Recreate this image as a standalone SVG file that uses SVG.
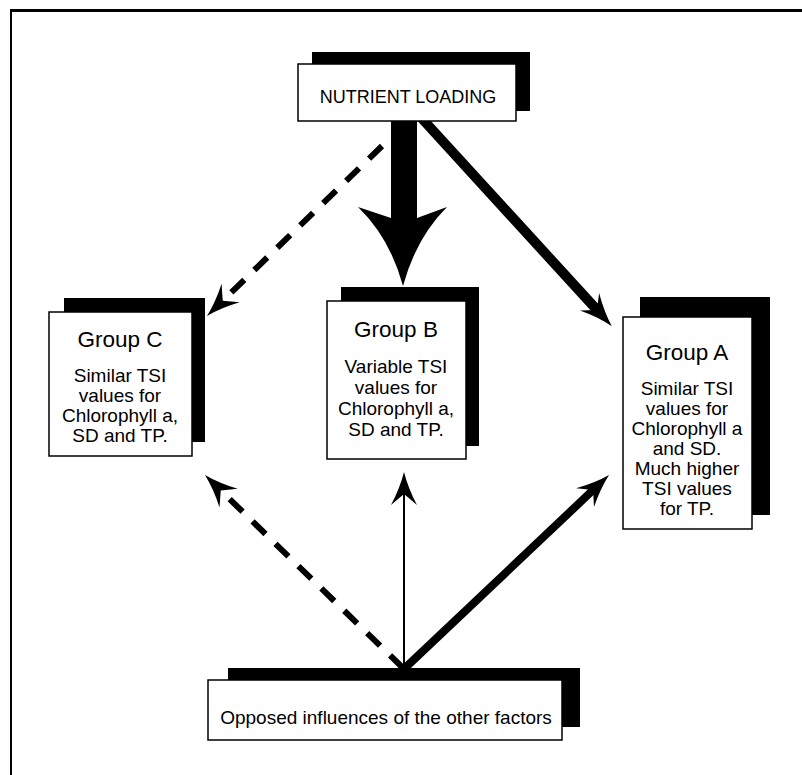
<svg xmlns="http://www.w3.org/2000/svg" width="802" height="775" viewBox="0 0 802 775">
<style>
.shadow{fill:#000}
.box{fill:#fff;stroke:#000;stroke-width:1.5}
text{font-family:"Liberation Sans",Arial,Helvetica,sans-serif;fill:#000;text-anchor:middle}
.title{font-size:22.5px}
.body{font-size:19px}
.small{font-size:18px}
.solid{fill:none;stroke:#000;stroke-linecap:butt}
.dash{fill:none;stroke:#000;stroke-width:6;stroke-dasharray:18 14}
</style>
<defs>
<marker id="head" markerUnits="userSpaceOnUse" viewBox="-35 -15 37 30" markerWidth="37" markerHeight="30" refX="-20" refY="0" orient="auto">
<path d="M0,0 Q-16,-4 -33,-13 L-22,0 L-33,13 Q-16,4 0,0 Z" fill="#000"/>
</marker>
</defs>
<rect x="10" y="9" width="792" height="3" fill="#000"/>
<rect x="10" y="9" width="2" height="766" fill="#000"/>
<g id="connectors">
<path class="solid" d="M416,112 L598.3,311.4" stroke-width="10" marker-end="url(#head)"/>
<path class="dash" d="M382,146 L221.3,302.1" marker-end="url(#head)"/>
<path d="M391,110 L417,110 L417,218 L447,207 Q416,238 403,286 Q390,238 358,207 L391,218 Z" fill="#000"/>
<path class="dash" d="M403,668 L219.3,489" stroke-dasharray="17 15" marker-end="url(#head)"/>
<path class="solid" d="M404,668 L404,492" stroke-width="2" marker-end="url(#head)"/>
<path class="solid" d="M405,668 L594.5,488.7" stroke-width="8" marker-end="url(#head)"/>
</g>
<g id="nutrient">
<rect class="shadow" x="312" y="52" width="218" height="59"/>
<rect class="box" x="298" y="64" width="218" height="57"/>
<text class="small" x="408" y="103">NUTRIENT LOADING</text>
</g>
<g id="groupC">
<rect class="shadow" x="64" y="298" width="141" height="144"/>
<rect class="box" x="49" y="312" width="143" height="144"/>
<text class="title" x="120" y="347">Group C</text>
<text class="body" x="120" y="382">Similar TSI</text>
<text class="body" x="120" y="402">values for</text>
<text class="body" x="120" y="422">Chlorophyll a,</text>
<text class="body" x="120" y="442">SD and TP.</text>
</g>
<g id="groupB">
<rect class="shadow" x="341" y="287" width="138" height="159"/>
<rect class="box" x="327" y="301" width="139" height="158"/>
<text class="title" x="396" y="337">Group B</text>
<text class="body" x="396" y="373">Variable TSI</text>
<text class="body" x="396" y="394">values for</text>
<text class="body" x="396" y="415">Chlorophyll a,</text>
<text class="body" x="396" y="436">SD and TP.</text>
</g>
<g id="groupA">
<rect class="shadow" x="640" y="297" width="130" height="218"/>
<rect class="box" x="623" y="317" width="129" height="212"/>
<text class="title" x="687" y="360">Group A</text>
<text class="body" x="687" y="395">Similar TSI</text>
<text class="body" x="687" y="415">values for</text>
<text class="body" x="687" y="435">Chlorophyll a</text>
<text class="body" x="687" y="455">and SD.</text>
<text class="body" x="687" y="475">Much higher</text>
<text class="body" x="687" y="495">TSI values</text>
<text class="body" x="687" y="515">for TP.</text>
</g>
<g id="opposed">
<rect class="shadow" x="228" y="668" width="352" height="59"/>
<rect class="box" x="208" y="680" width="354" height="60"/>
<text class="body" x="386" y="724">Opposed influences of the other factors</text>
</g>
</svg>
